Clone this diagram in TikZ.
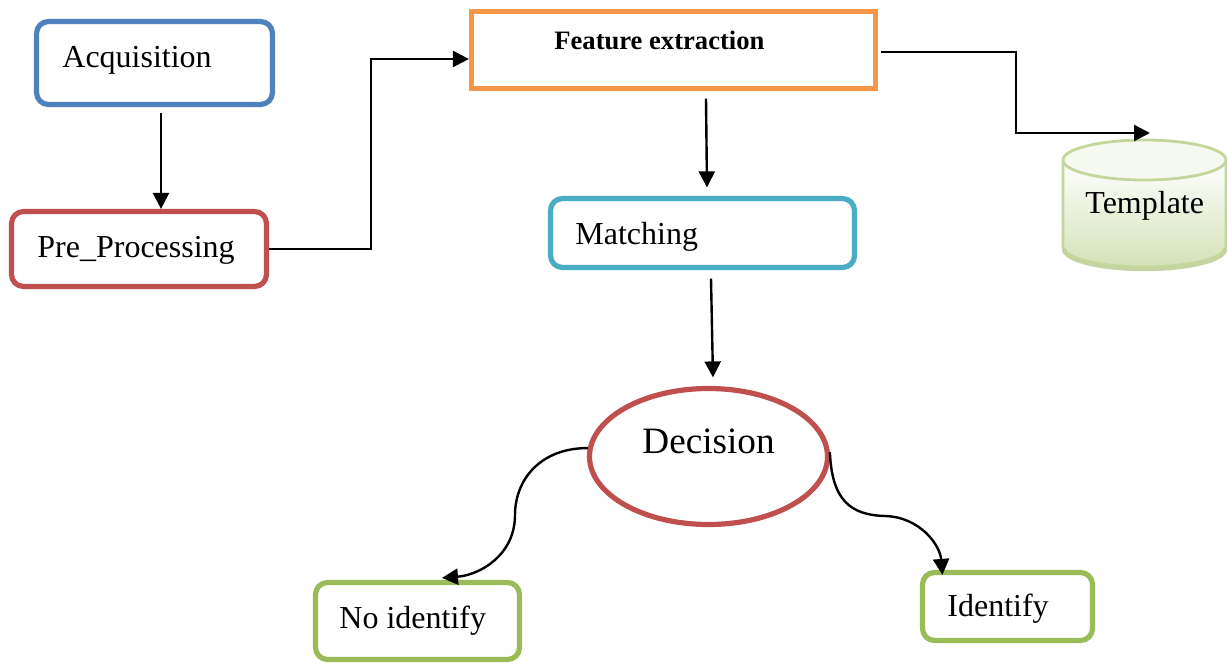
\documentclass[tikz,border=0pt]{standalone}
\usepackage{fontspec}
\setmainfont{Liberation Serif}
\usetikzlibrary{arrows.meta,calc,shapes.geometric}
\definecolor{acqblue}{HTML}{4F81BD}
\definecolor{prered}{HTML}{C0504D}
\definecolor{featorange}{HTML}{F79646}
\definecolor{matchteal}{HTML}{4BACC6}
\definecolor{outgreen}{HTML}{9BBB59}
\definecolor{cylline}{HTML}{C3D69B}
\definecolor{cylfill}{HTML}{D3E2B6}
\definecolor{cyltop}{HTML}{F6F9F0}
\definecolor{cylshadow}{HTML}{B5C98C}
\begin{document}
\begin{tikzpicture}[x=0.5pt,y=-0.5pt,
  box/.style={draw, line width=2.6pt, rounded corners=6pt, inner sep=0pt},
  lbl/.style={anchor=base west, inner sep=0pt, font=\fontsize{16}{19}\selectfont},
  arr/.style={draw=black, line width=1.2pt, -{Triangle[length=8pt,width=8pt]}}]
\useasboundingbox (0,0) rectangle (1227,664);

% process boxes
\node[box, draw=acqblue, minimum width=118pt, minimum height=41.5pt] (acq) at (154.5,63) {};
\node[lbl] (acqtxt) at (62,68) {Acquisition};
\node[box, draw=prered, minimum width=127.5pt, minimum height=37.5pt] (pre) at (139,249) {};
\node[lbl] (pretxt) at (37,257) {Pre\_Processing};
\node[draw=featorange, line width=2.6pt, minimum width=202pt, minimum height=38.5pt, inner sep=0pt] (feat) at (673.5,50) {};
\node[lbl, font=\fontsize{13.3}{16}\selectfont\bfseries] (feattxt) at (554,49) {Feature extraction};
\node[box, draw=matchteal, minimum width=152pt, minimum height=34.5pt] (match) at (702.5,233) {};
\node[lbl] (matchtxt) at (575,244) {Matching};
\node[ellipse, draw=prered, line width=2.6pt, minimum width=119pt, minimum height=68pt, inner sep=0pt] (dec) at (708.5,456.5) {};
\node[lbl, font=\fontsize{18.6}{22}\selectfont] (dectxt) at (642,453) {Decision};
\node[box, draw=outgreen, minimum width=102pt, minimum height=38.5pt] (noid) at (417.5,621) {};
\node[lbl] (noidtxt) at (339,628) {No identify};
\node[box, draw=outgreen, minimum width=85pt, minimum height=34pt] (idf) at (1007.5,606.5) {};
\node[lbl] (idftxt) at (947,616) {Identify};

% template store (cylinder)
\shade[top color=white, bottom color=cylfill]
  (1063,160) -- (1063,247) arc[start angle=180, end angle=360, x radius=40.75pt, y radius=10pt]
  -- (1226,160) -- cycle;
\draw[cylshadow, line width=2.2pt, opacity=0.8]
  (1064,249) arc[start angle=180, end angle=360, x radius=40.25pt, y radius=10pt];
\draw[cylline, line width=1.4pt]
  (1063,160) -- (1063,247) arc[start angle=180, end angle=360, x radius=40.75pt, y radius=10pt]
  -- (1226,160);
\filldraw[cylline, fill=cyltop, line width=1.4pt] (1144.5,160) ellipse[x radius=40.75pt, y radius=10pt];
\node[lbl] (tmpl) at (1085,213) {Template};
\coordinate (tmplin) at (1150,133);

% connectors
\coordinate (a1) at ($(acq.south)+(6.5,5.5)$);
\draw[arr] (a1) -- (a1 |- pre.north);
\draw[arr] (pre.east) -- ++(102,0) |- ($(feat.west)+(0,9)$);
\draw[arr] ($(feat.south)+(32.5,7.5)$) -- ($(match.north)+(4.5,-8.5)$);
\draw[arr] ($(match.south)+(8.5,8.5)$) -- ($(dec.north)+(4.5,-8.5)$);
\draw[arr] ($(feat.east)+(2.5,2)$) -| ($(tmplin)+(-134,0)$) -- (tmplin);
\draw[arr] (dec.176) .. controls (540,448) and (515,480) .. (515,515)
  .. controls (515,555) and (480,575) .. ($(noid.north)+(24.5,-2)$);
\draw[arr] (dec.2) .. controls (832,500) and (850,515) .. (885,516)
  .. controls (920,517) and (940,545) .. ($(idf.north west)+(22.5,5)$);
\end{tikzpicture}
\end{document}
